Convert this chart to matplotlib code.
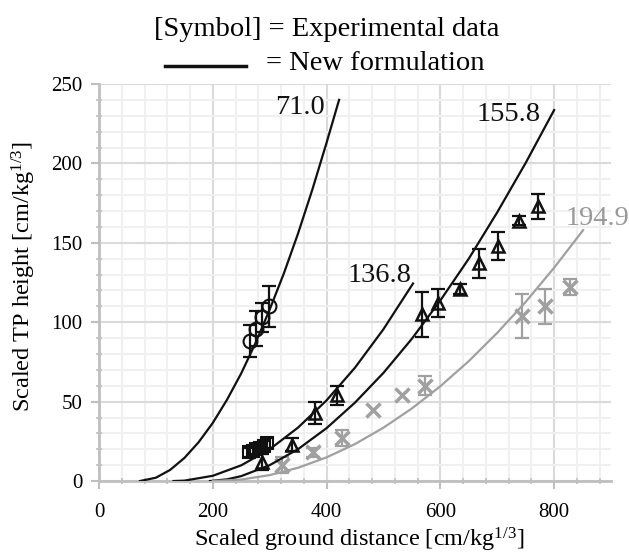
import matplotlib
matplotlib.use('Agg')
import matplotlib.pyplot as plt
from matplotlib.lines import Line2D
from matplotlib.ticker import MultipleLocator
import numpy as np

plt.rcParams['font.family'] = ['Liberation Serif', 'DejaVu Serif']
plt.rcParams['mathtext.fontset'] = 'custom'
plt.rcParams['mathtext.rm'] = 'Liberation Serif'
plt.rcParams['mathtext.it'] = 'Liberation Serif:italic'

BLACK = '#111111'
GREY = '#a0a0a0'
AXIS_GREY = '#bfbfbf'

# new formulation curves
curve_710_x = [72, 100, 125, 150, 175, 200, 225, 250, 275, 300, 325, 350, 375, 400, 422]
curve_710_y = [0, 2.1, 7.0, 14.5, 24.4, 36.6, 51.2, 67.8, 86.8, 108, 130.8, 156, 183.5, 213, 240]

curve_1368_x = [131, 150, 200, 250, 300, 350, 400, 450, 500, 552]
curve_1368_y = [0, 0.25, 3.3, 9.9, 20.0, 33.7, 50.8, 71.4, 95.6, 124.4]

curve_1558_x = [195, 225, 250, 300, 350, 400, 450, 500, 550, 600, 650, 700, 750, 800]
curve_1558_y = [0, 1.05, 3.1, 10.0, 20.1, 33.3, 49.4, 68.1, 89.6, 113.7, 140.0, 169.2, 200.3, 233.6]

curve_1949_x = [200, 250, 300, 350, 400, 450, 500, 550, 600, 650, 700, 750, 800, 851]
curve_1949_y = [0, 0.93, 3.73, 8.39, 14.9, 23.3, 33.6, 45.7, 59.7, 75.5, 93.3, 112.8, 134.3, 158]

curve_labels = ['71.0', '136.8', '155.8', '194.9']

# experimental data
circle_x = [265, 276, 287, 298]
circle_y = [88, 96, 103, 110]
circle_err = [10, 11, 9, 13]

square_x = [264, 270, 276, 283, 290, 296]
square_y = [18, 19, 20, 21, 22, 24]
square_err = [3, 3, 3, 3, 3, 3]

triangle_x = [286, 339, 380, 419, 567, 596, 634, 668, 702, 739, 771]
triangle_y = [12, 23, 43, 54, 105, 112, 121, 137, 148, 164, 173]
triangle_err = [5, 4, 7, 6, 14, 9, 3, 9, 9, 3, 8]

cross_x = [321, 377, 428, 482, 532, 573, 743, 784, 828]
cross_y = [10, 18, 27, 45, 54, 60, 104, 110, 122]
cross_err = [5, 3, 5, 0, 0, 6, 14, 11, 5]

x_ticks = [0, 200, 400, 600, 800]
y_ticks = [0, 50, 100, 150, 200, 250]


def _points(ax, xs, ys, errs, marker, color, ms, mew):
    xs, ys, errs = np.asarray(xs), np.asarray(ys), np.asarray(errs)
    has = errs > 0
    ax.errorbar(xs[has], ys[has], yerr=errs[has], fmt='none', ecolor=color,
                elinewidth=1.6, capsize=5, capthick=1.6, zorder=3)
    ax.plot(xs, ys, linestyle='none', marker=marker, mfc='none', mec=color,
            ms=ms, mew=mew, zorder=3)


def main():
    fig = plt.figure(figsize=(6.29, 5.60), dpi=100)
    ax = fig.add_axes([0.1574, 0.141, 0.814, 0.709])

    ax.set_xlim(0, 900)
    ax.set_ylim(0, 250)
    ax.xaxis.set_minor_locator(MultipleLocator(40))
    ax.yaxis.set_minor_locator(MultipleLocator(10))
    ax.set_xticks(x_ticks)
    ax.set_yticks(y_ticks)
    ax.set_xticklabels([str(t) for t in x_ticks])
    ax.set_yticklabels([str(t) for t in y_ticks])

    ax.grid(which='minor', color='#f0f0f0', lw=1.5, zorder=0)
    ax.grid(which='major', color='#dadada', lw=1.5, zorder=0)
    ax.set_axisbelow(True)

    for side in ('top', 'right'):
        ax.spines[side].set_visible(False)
    for side in ('bottom', 'left'):
        ax.spines[side].set_color(AXIS_GREY)
        ax.spines[side].set_linewidth(2)

    ax.tick_params(which='major', direction='out', length=6, width=1.5,
                   color=AXIS_GREY, labelsize=15)
    ax.tick_params(which='minor', direction='inout', length=5, width=1.2,
                   color=AXIS_GREY)
    ax.tick_params(axis='x', which='major', pad=10)
    ax.tick_params(axis='y', which='major', pad=6)

    ax.plot(curve_710_x, curve_710_y, color=BLACK, lw=1.6, zorder=4)
    ax.plot(curve_1368_x, curve_1368_y, color=BLACK, lw=1.6, zorder=4)
    ax.plot(curve_1558_x, curve_1558_y, color=BLACK, lw=1.6, zorder=4)
    ax.plot(curve_1949_x, curve_1949_y, color=GREY, lw=1.6, zorder=4)

    _points(ax, circle_x, circle_y, circle_err, 'o', BLACK, 10, 1.5)
    _points(ax, square_x, square_y, square_err, 's', BLACK, 8, 1.5)
    _points(ax, triangle_x, triangle_y, triangle_err, '^', BLACK, 9, 1.8)
    _points(ax, cross_x, cross_y, cross_err, 'x', GREY, 10, 2.5)

    ax.text(353, 235.5, curve_labels[0], fontsize=20.5, ha='center', va='center', color=BLACK)
    ax.text(493, 129.7, curve_labels[1], fontsize=20.5, ha='center', va='center', color=BLACK)
    ax.text(720, 231, curve_labels[2], fontsize=20.5, ha='center', va='center', color=BLACK)
    ax.text(876, 165, curve_labels[3], fontsize=20.5, ha='center', va='center', color='#999999')

    fig.text(0.52, 0.948, '[Symbol] = Experimental data', fontsize=20.5,
             ha='center', va='center')
    fig.text(0.423, 0.886, '= New formulation', fontsize=20.5, ha='left', va='center')
    fig.add_artist(Line2D([0.262, 0.391], [0.882, 0.882], transform=fig.transFigure,
                          color=BLACK, lw=2.5))

    fig.text(0.571, 0.036, r'Scaled ground distance [cm/kg$^{\mathrm{1/3}}$]',
             fontsize=17.5, ha='center', va='center')
    fig.text(0.038, 0.507, r'Scaled TP height [cm/kg$^{\mathrm{1/3}}$]',
             fontsize=17.5, ha='center', va='center', rotation=90)

    fig.savefig('out.png', dpi=100)


if __name__ == '__main__':
    main()
